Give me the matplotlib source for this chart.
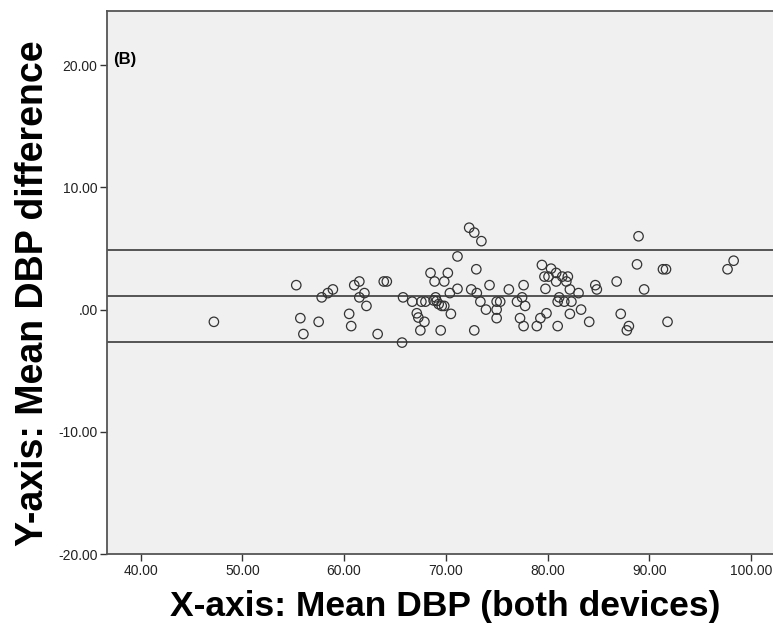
import numpy as np
import matplotlib
matplotlib.use("Agg")
import matplotlib.pyplot as plt

# mean DBP of both devices (x) and DBP difference (y)
mean_dbp = [47.2, 55.3, 55.7, 56.0, 57.5, 57.8, 58.4, 58.9, 60.5, 60.7,
            61.0, 61.5, 61.5, 62.0, 62.2, 63.3, 63.9, 64.2, 65.7, 65.8,
            66.7, 67.15, 67.3, 67.9, 67.5, 67.6, 68.0, 68.5, 68.9, 69.0,
            69.1, 68.8, 69.3, 69.6, 69.85, 69.5, 69.85, 70.2, 70.4, 70.5,
            71.15, 71.15, 72.3, 72.8, 73.5, 72.5, 73.0, 73.05, 72.8, 73.4,
            73.95, 74.3, 75.0, 75.35, 75.0, 75.0, 76.2, 77.0, 77.3, 77.5,
            77.65, 77.8, 77.65, 78.95, 79.3, 79.45, 79.7, 79.8, 79.9, 80.35,
            80.1, 80.85, 80.85, 81.45, 82.0, 81.85, 82.2, 83.05, 81.15, 81.0,
            81.65, 82.35, 81.0, 82.2, 83.3, 84.1, 84.7, 84.85, 86.8, 87.2,
            87.8, 88.0, 88.95, 88.8, 89.5, 91.35, 91.65, 91.8, 97.7, 98.3]
dbp_diff = [-1.0, 2.0, -0.7, -2.0, -1.0, 1.0, 1.35, 1.65, -0.35, -1.35,
            2.0, 2.3, 1.0, 1.35, 0.3, -2.0, 2.3, 2.3, -2.7, 1.0,
            0.65, -0.3, -0.65, -1.0, -1.7, 0.65, 0.65, 3.0, 2.3, 1.0,
            0.7, 0.75, 0.45, 0.3, 0.3, -1.7, 2.3, 3.0, 1.35, -0.35,
            4.35, 1.7, 6.7, 6.3, 5.6, 1.65, 3.3, 1.35, -1.7, 0.65,
            0.0, 2.0, 0.65, 0.65, 0.0, -0.7, 1.65, 0.65, -0.7, 1.0,
            2.0, 0.3, -1.35, -1.35, -0.7, 3.65, 2.7, 1.7, -0.3, 3.35,
            2.7, 3.0, 2.3, 2.7, 2.7, 2.3, 1.65, 1.35, 1.0, 0.65,
            0.65, 0.65, -1.35, -0.35, 0.0, -1.0, 2.0, 1.65, 2.3, -0.35,
            -1.7, -1.35, 6.0, 3.7, 1.65, 3.3, 3.3, -1.0, 3.3, 4.0]

mean_diff = 1.11
upper_loa = 4.87
lower_loa = -2.64

xticks = [40, 50, 60, 70, 80, 90, 100]
xticklabels = ["40.00", "50.00", "60.00", "70.00", "80.00", "90.00", "100.00"]
yticks = [-20, -10, 0, 10, 20]
yticklabels = ["-20.00", "-10.00", ".00", "10.00", "20.00"]

plt.rcParams['font.family'] = ['Liberation Sans', 'DejaVu Sans']

fig = plt.figure(figsize=(7.73, 6.30), dpi=100)
ax = fig.add_axes([0.1388, 0.1206, 0.8612, 0.8619])
ax.set_facecolor("#f0f0f0")

for v in [upper_loa, mean_diff, lower_loa]:
    ax.axhline(v, color="#3a3a3a", lw=1.2, zorder=2)

ax.scatter(mean_dbp, dbp_diff, s=46, facecolors="none", edgecolors="#333333",
           linewidths=0.9, zorder=3)

ax.set_xlim(36.72, 102.17)
ax.set_ylim(-20, 24.43)
ax.set_xticks(xticks)
ax.set_xticklabels(xticklabels)
ax.set_yticks(yticks)
ax.set_yticklabels(yticklabels)
ax.tick_params(direction="out", length=5, width=1, color="#333333",
               labelsize=10, labelcolor="#222222", pad=2)

for side in ["left", "bottom", "top"]:
    ax.spines[side].set_color("#555555")
    ax.spines[side].set_linewidth(1.3)
ax.spines["right"].set_visible(False)

ax.text(0.009, 20.5, "(B)", transform=ax.get_yaxis_transform(),
        fontsize=12, fontweight="bold", va="center", ha="left")

fig.text(0.576, 0.037, "X-axis: Mean DBP (both devices)", fontsize=25.5,
         fontweight="bold", ha="center", va="center")
fig.text(0.043, 0.535, "Y-axis: Mean DBP difference", fontsize=27,
         fontweight="bold", ha="center", va="center", rotation=90)

fig.savefig("out.png", dpi=100)
